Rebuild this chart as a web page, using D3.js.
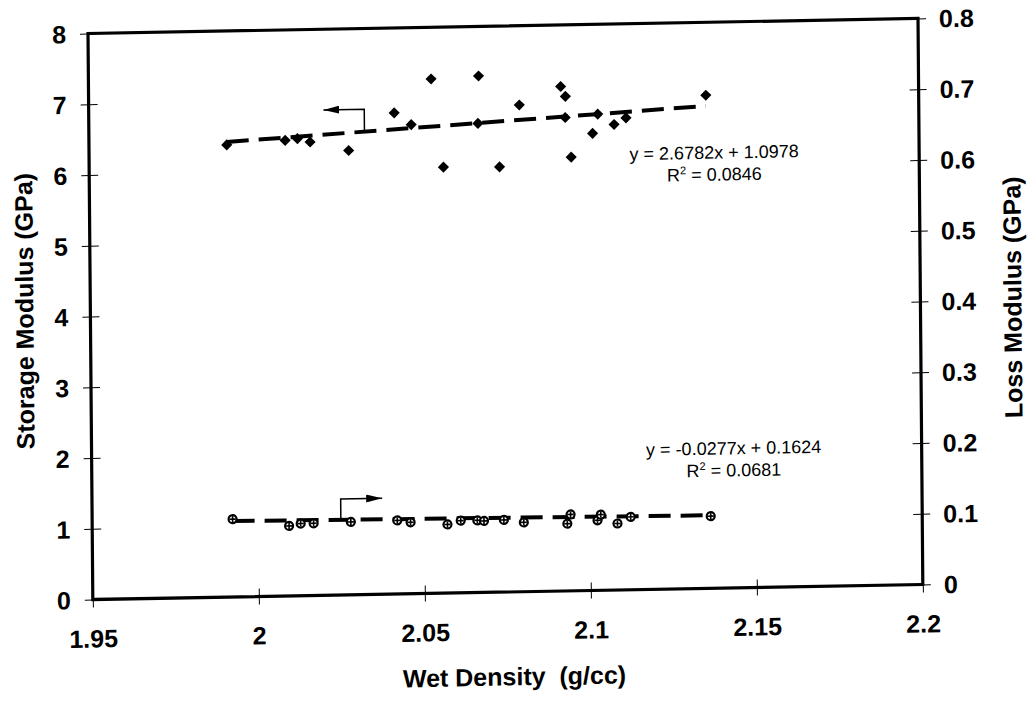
<!DOCTYPE html>
<html>
<head>
<meta charset="utf-8">
<script src="https://cdn.jsdelivr.net/npm/d3@7"></script>
<style>
  body { margin: 0; background: #fff; }
  text { font-family: "Liberation Sans", Arial, sans-serif; fill: #000; }
  .tick-label { font-size: 25px; font-weight: bold; }
  .title { font-size: 25px; font-weight: bold; white-space: pre; }
  .eq { font-size: 18px; }
</style>
</head>
<body>
<script>
// storage modulus (left axis) vs wet density
const storageDensity = [1.9915, 2.0091, 2.0128, 2.0166, 2.0282, 2.0420, 2.0471, 2.0532, 2.0567, 2.0675, 2.0672,
  2.0736, 2.0797, 2.0922, 2.0936, 2.0935, 2.0952, 2.1017, 2.1033, 2.1082, 2.1118, 2.1359];
const storageModulus = [6.39, 6.44, 6.46, 6.41, 6.28, 6.80, 6.63, 7.27, 6.02, 7.30, 6.63,
  6.01, 6.88, 7.13, 6.99, 6.69, 6.13, 6.46, 6.73, 6.58, 6.67, 6.97];

// loss modulus (right axis) vs wet density
const lossDensity = [1.9923, 2.0093, 2.0128, 2.0167, 2.0279, 2.0419, 2.0459, 2.0570, 2.0610, 2.0660,
  2.0680, 2.0740, 2.0800, 2.0931, 2.0941, 2.1022, 2.1032, 2.1082, 2.1122, 2.1363];
const lossModulus = [0.110, 0.099, 0.102, 0.102, 0.103, 0.104, 0.101, 0.097, 0.102, 0.102,
  0.101, 0.102, 0.098, 0.095, 0.108, 0.099, 0.107, 0.094, 0.103, 0.102];

// linear trendlines as printed on the chart
const storageFit = { slope: 2.6782, intercept: 1.0978, label: 'y = 2.6782x + 1.0978', r2: '0.0846' };
const lossFit = { slope: -0.0277, intercept: 0.1624, label: 'y = -0.0277x + 0.1624', r2: '0.0681' };

const xTicks = [1.95, 2, 2.05, 2.1, 2.15, 2.2];
const leftTicks = [0, 1, 2, 3, 4, 5, 6, 7, 8];
const rightTicks = [0, 0.1, 0.2, 0.3, 0.4, 0.5, 0.6, 0.7, 0.8];

const width = 1029;
const height = 702;
const plot = { left: 88, right: 918, top: 33.5, bottom: 599.5 };

const svg = d3.select('body').append('svg')
  .attr('width', width)
  .attr('height', height);

svg.append('defs').append('marker')
  .attr('id', 'arrow')
  .attr('viewBox', '0 0 16 8')
  .attr('refX', 16).attr('refY', 4)
  .attr('markerWidth', 16).attr('markerHeight', 8)
  .attr('markerUnits', 'userSpaceOnUse')
  .attr('orient', 'auto')
  .append('path')
  .attr('d', 'M0,0L16,4L0,8Z')
  .attr('fill', '#000');

// the scanned figure is slightly skewed
const g = svg.append('g')
  .attr('transform', 'matrix(1,-0.0181,0.0085,1,-0.28,1.59)');

const x = d3.scaleLinear().domain([1.95, 2.2]).range([plot.left, plot.right]);
const yL = d3.scaleLinear().domain([0, 8]).range([plot.bottom, plot.top]);
const yR = d3.scaleLinear().domain([0, 0.8]).range([plot.bottom, plot.top]);

// axes
const bottomAxis = g.append('g')
  .attr('transform', `translate(0,${plot.bottom})`)
  .call(d3.axisBottom(x).tickValues(xTicks).tickSizeInner(8).tickSizeOuter(0).tickFormat(d3.format('')));
bottomAxis.selectAll('.tick line').attr('y1', -8).attr('stroke-width', 1);
bottomAxis.selectAll('.tick text').attr('class', 'tick-label').attr('y', 48).attr('dy', 0);

const leftAxis = g.append('g')
  .attr('transform', `translate(${plot.left},0)`)
  .call(d3.axisLeft(yL).tickValues(leftTicks).tickSizeInner(8).tickSizeOuter(0).tickFormat(d3.format('d')));
leftAxis.selectAll('.tick line').attr('x1', 9).attr('stroke-width', 1);
leftAxis.selectAll('.tick text').attr('class', 'tick-label').attr('x', -22).attr('dy', '0.35em');

const rightAxis = g.append('g')
  .attr('transform', `translate(${plot.right},0)`)
  .call(d3.axisRight(yR).tickValues(rightTicks).tickSizeInner(8).tickSizeOuter(0).tickFormat(d => d === 0 ? '0' : d3.format('.1f')(d)));
rightAxis.selectAll('.tick line').attr('x1', -9).attr('stroke-width', 1);
rightAxis.selectAll('.tick text').attr('class', 'tick-label').attr('x', 21).attr('dy', '0.35em');

g.selectAll('.domain').remove();

// frame
g.append('path')
  .attr('d', `M${plot.left},${plot.top}H${plot.right}V${plot.bottom}H${plot.left}Z`)
  .attr('fill', 'none')
  .attr('stroke', '#000')
  .attr('stroke-width', 3.2);

// titles
g.append('text').attr('class', 'title')
  .attr('x', 509).attr('y', 693)
  .attr('text-anchor', 'middle')
  .text('Wet Density  (g/cc)');

g.append('text').attr('class', 'title')
  .attr('transform', 'translate(31,310) rotate(-90)')
  .attr('text-anchor', 'middle')
  .text('Storage Modulus (GPa)');

g.append('text').attr('class', 'title')
  .attr('transform', 'translate(1019,314) rotate(-90)')
  .attr('text-anchor', 'middle')
  .text('Loss Modulus (GPa)');

// trendlines
function trend(fit, xs, yScale) {
  const ends = d3.extent(xs);
  g.append('line')
    .attr('x1', x(ends[0])).attr('y1', yScale(fit.slope * ends[0] + fit.intercept))
    .attr('x2', x(ends[1])).attr('y2', yScale(fit.slope * ends[1] + fit.intercept))
    .attr('stroke', '#000')
    .attr('stroke-width', 4)
    .attr('stroke-dasharray', '22,10');
}
trend(storageFit, storageDensity, yL);
trend(lossFit, lossDensity, yR);

// storage markers: filled diamonds
g.append('g').selectAll('path')
  .data(storageDensity.map((d, i) => [d, storageModulus[i]]))
  .enter().append('path')
  .attr('d', d3.symbol(d3.symbolSquare, 62))
  .attr('transform', d => `translate(${x(d[0])},${yL(d[1])}) rotate(45)`)
  .attr('fill', '#000');

// loss markers: small crossed circles
const lossMarks = g.append('g').selectAll('g')
  .data(lossDensity.map((d, i) => [d, lossModulus[i]]))
  .enter().append('g')
  .attr('transform', d => `translate(${x(d[0])},${yR(d[1])})`);
lossMarks.append('circle')
  .attr('r', 4)
  .attr('fill', '#fff')
  .attr('stroke', '#000')
  .attr('stroke-width', 2.2);
lossMarks.append('path')
  .attr('d', 'M-3,0H3M0,-3V3')
  .attr('stroke', '#000')
  .attr('stroke-width', 1.6);

// arrows telling which axis each series uses
const storageArrow = { at: 2.033, top: 6.86, tip: 2.0207 };
g.append('path')
  .attr('d', `M${x(storageArrow.at)},${yL(storageFit.slope * storageArrow.at + storageFit.intercept)}` +
    `V${yL(storageArrow.top)}H${x(storageArrow.tip)}`)
  .attr('fill', 'none')
  .attr('stroke', '#000')
  .attr('stroke-width', 1.5)
  .attr('marker-end', 'url(#arrow)');

const lossArrow = { at: 2.0249, top: 0.1357, tip: 2.0374 };
g.append('path')
  .attr('d', `M${x(lossArrow.at)},${yR(lossFit.slope * lossArrow.at + lossFit.intercept)}` +
    `V${yR(lossArrow.top)}H${x(lossArrow.tip)}`)
  .attr('fill', 'none')
  .attr('stroke', '#000')
  .attr('stroke-width', 1.5)
  .attr('marker-end', 'url(#arrow)');

// equations
function equation(fit, cx, cy) {
  g.append('text').attr('class', 'eq')
    .attr('x', cx).attr('y', cy)
    .attr('text-anchor', 'middle')
    .text(fit.label);
  const r = g.append('text').attr('class', 'eq')
    .attr('x', cx).attr('y', cy + 22)
    .attr('text-anchor', 'middle');
  r.append('tspan').text('R');
  r.append('tspan').attr('font-size', '11px').attr('dy', -7).text('2');
  r.append('tspan').attr('dy', 7).text(' = ' + fit.r2);
}
equation(storageFit, 713, 170);
equation(lossFit, 730, 466);
</script>
</body>
</html>
